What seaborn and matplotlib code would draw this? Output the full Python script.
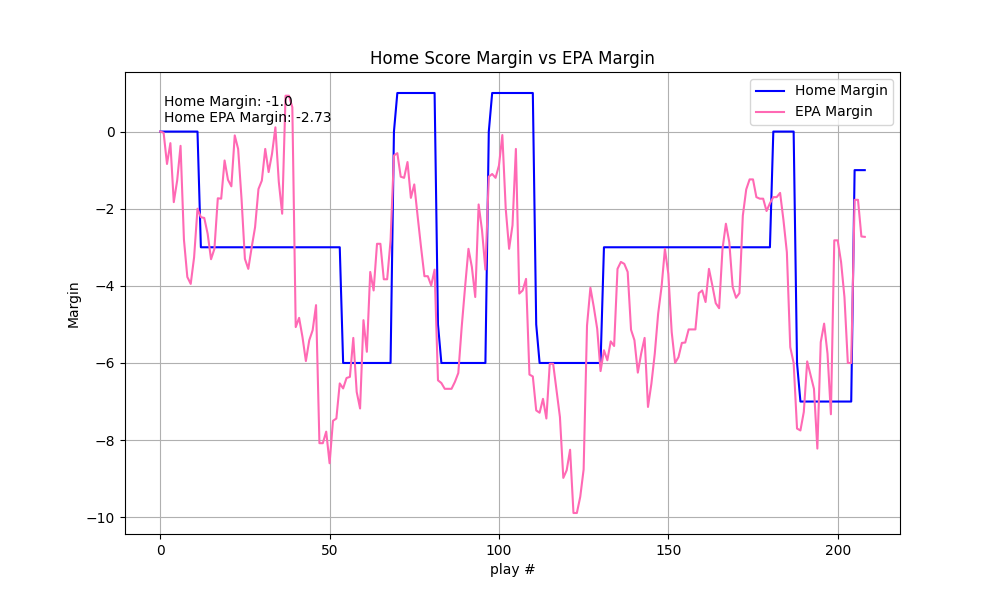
import matplotlib
matplotlib.use("Agg")
import matplotlib.pyplot as plt
import seaborn as sns

OUT_PATH = "out.png"

# home score margin after each play
home_margin = [
    0, 0, 0, 0, 0, 0, 0, 0, 0, 0,
    0, 0, -3, -3, -3, -3, -3, -3, -3, -3,
    -3, -3, -3, -3, -3, -3, -3, -3, -3, -3,
    -3, -3, -3, -3, -3, -3, -3, -3, -3, -3,
    -3, -3, -3, -3, -3, -3, -3, -3, -3, -3,
    -3, -3, -3, -3, -6, -6, -6, -6, -6, -6,
    -6, -6, -6, -6, -6, -6, -6, -6, -6, 0,
    1, 1, 1, 1, 1, 1, 1, 1, 1, 1,
    1, 1, -5, -6, -6, -6, -6, -6, -6, -6,
    -6, -6, -6, -6, -6, -6, -6, 0, 1, 1,
    1, 1, 1, 1, 1, 1, 1, 1, 1, 1,
    1, -5, -6, -6, -6, -6, -6, -6, -6, -6,
    -6, -6, -6, -6, -6, -6, -6, -6, -6, -6,
    -6, -3, -3, -3, -3, -3, -3, -3, -3, -3,
    -3, -3, -3, -3, -3, -3, -3, -3, -3, -3,
    -3, -3, -3, -3, -3, -3, -3, -3, -3, -3,
    -3, -3, -3, -3, -3, -3, -3, -3, -3, -3,
    -3, -3, -3, -3, -3, -3, -3, -3, -3, -3,
    -3, 0, 0, 0, 0, 0, 0, 0, -6, -7,
    -7, -7, -7, -7, -7, -7, -7, -7, -7, -7,
    -7, -7, -7, -7, -7, -1, -1, -1, -1,
]

# cumulative home EPA margin after each play
epa_margin = [
    0.00, -0.03, -0.84, -0.30, -1.83, -1.27, -0.37, -2.80, -3.77, -3.95,
    -3.26, -2.00, -2.22, -2.24, -2.65, -3.31, -3.04, -1.73, -1.74, -0.75,
    -1.25, -1.42, -0.10, -0.45, -1.74, -3.30, -3.56, -3.00, -2.48, -1.49,
    -1.27, -0.45, -1.05, -0.58, 0.11, -1.30, -2.13, 0.93, 0.93, 0.63,
    -5.07, -4.83, -5.33, -5.95, -5.41, -5.15, -4.50, -8.08, -8.08, -7.78,
    -8.60, -7.50, -7.44, -6.53, -6.66, -6.39, -6.36, -5.35, -6.75, -7.18,
    -4.89, -5.71, -3.64, -4.12, -2.91, -2.91, -3.83, -3.83, -2.82, -0.62,
    -0.56, -1.17, -1.20, -0.79, -1.72, -1.37, -2.20, -3.00, -3.75, -3.75,
    -3.99, -3.58, -6.45, -6.52, -6.67, -6.67, -6.67, -6.49, -6.26, -5.07,
    -4.03, -3.04, -3.51, -4.29, -1.89, -2.56, -3.58, -1.17, -1.10, -1.20,
    -0.88, -0.09, -2.00, -3.04, -2.43, -0.45, -4.20, -4.12, -3.82, -6.30,
    -6.35, -7.23, -7.29, -6.93, -7.44, -6.02, -6.02, -6.71, -7.40, -8.98,
    -8.78, -8.25, -9.89, -9.89, -9.47, -8.76, -5.03, -4.05, -4.55, -5.11,
    -6.21, -5.67, -5.93, -5.44, -5.56, -3.56, -3.38, -3.43, -3.64, -5.14,
    -5.41, -6.25, -5.75, -5.35, -7.14, -6.54, -5.76, -4.72, -4.03, -3.04,
    -3.69, -5.20, -6.00, -5.85, -5.48, -5.47, -5.13, -5.13, -5.13, -4.19,
    -4.12, -4.42, -3.56, -3.99, -4.45, -4.58, -3.04, -2.39, -2.87, -4.03,
    -4.31, -4.19, -2.18, -1.50, -1.24, -1.24, -1.70, -1.74, -1.74, -2.06,
    -1.86, -1.70, -1.70, -1.59, -2.30, -3.13, -5.59, -6.00, -7.70, -7.75,
    -7.27, -5.96, -6.32, -6.67, -8.22, -5.46, -4.98, -5.76, -7.33, -2.82,
    -2.82, -3.38, -4.29, -6.00, -6.00, -1.77, -1.77, -2.72, -2.73,
]

plays = list(range(len(epa_margin)))

final_home = -1.0
final_epa = -2.73


def make_margin_plot():
    fig, ax = plt.subplots(figsize=(10, 6), dpi=100)

    sns.lineplot(x=plays, y=home_margin, color="blue", label="Home Margin", ax=ax)
    sns.lineplot(x=plays, y=epa_margin, color="hotpink", label="EPA Margin", ax=ax)

    ax.text(1, 0.25, f"Home Margin: {final_home}\nHome EPA Margin: {final_epa}")

    ax.set_title("Home Score Margin vs EPA Margin")
    ax.set_xlabel("play #")
    ax.set_ylabel("Margin")
    ax.grid(True)
    ax.legend(loc="upper right")

    fig.savefig(OUT_PATH, dpi=100)
    plt.close(fig)


if __name__ == "__main__":
    make_margin_plot()
